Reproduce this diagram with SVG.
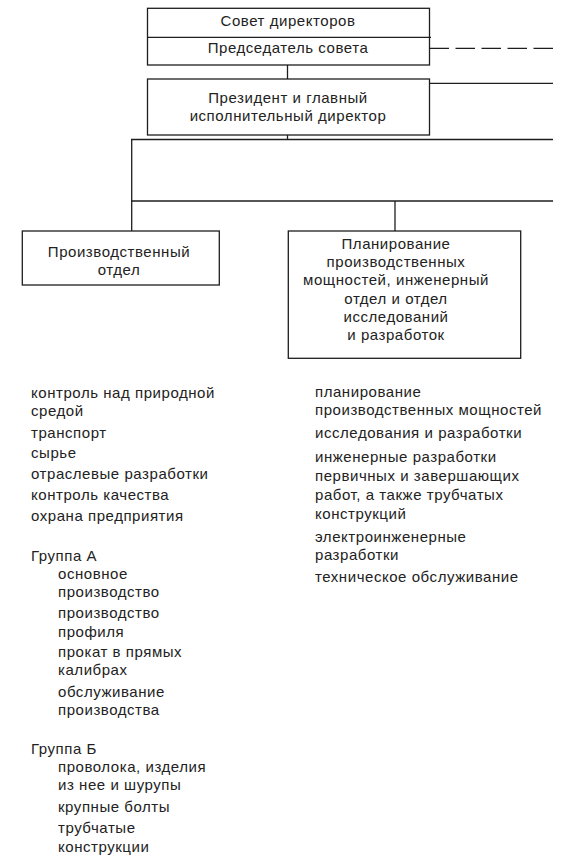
<svg xmlns="http://www.w3.org/2000/svg" width="562" height="859" viewBox="0 0 562 859">
<style>
.box{fill:#fff;stroke:#1e1e1e;stroke-width:1.3}
.ln{stroke:#1e1e1e;stroke-width:1.3;fill:none}
.dash{stroke:#1e1e1e;stroke-width:1.3;fill:none;stroke-dasharray:19.5 6.5}
text{font-family:"Liberation Sans",Arial,sans-serif;font-size:15px;fill:#222;letter-spacing:0.55px}
.c{text-anchor:middle}
</style>
<rect width="562" height="859" fill="#fff"/>
<g id="connectors">
<line class="ln" x1="287.5" y1="65" x2="287.5" y2="79"/>
<line class="ln" x1="287.5" y1="135" x2="287.5" y2="140"/>
<line class="dash" x1="429.5" y1="48.3" x2="553" y2="48.3"/>
<line class="ln" x1="430" y1="83.3" x2="553" y2="83.3"/>
<line class="ln" x1="131" y1="139.5" x2="553" y2="139.5"/>
<line class="ln" x1="131.7" y1="139" x2="131.7" y2="231"/>
<line class="ln" x1="131" y1="201" x2="553" y2="201"/>
<line class="ln" x1="395" y1="201" x2="395" y2="231"/>
</g>
<g id="board">
<rect class="box" x="147.5" y="8.3" width="282" height="56.7"/>
<line class="ln" x1="147.5" y1="37.3" x2="431" y2="37.3"/>
<text class="c" x="288" y="26">Совет директоров</text>
<text class="c" x="288" y="53">Председатель совета</text>
</g>
<g id="president">
<rect class="box" x="147.5" y="79" width="282" height="56"/>
<text class="c" x="288" y="103">Президент и главный</text>
<text class="c" x="288" y="121">исполнительный директор</text>
</g>
<g id="production">
<rect class="box" x="22.3" y="231" width="197" height="54"/>
<text class="c" x="119" y="256.5">Производственный</text>
<text class="c" x="119" y="274.5">отдел</text>
</g>
<g id="planning">
<rect class="box" x="288.3" y="231" width="232.4" height="127.3"/>
<text class="c" x="396" y="249">Планирование</text>
<text class="c" x="396" y="267.2">производственных</text>
<text class="c" x="396" y="285.4">мощностей, инженерный</text>
<text class="c" x="396" y="303.6">отдел и отдел</text>
<text class="c" x="396" y="321.8">исследований</text>
<text class="c" x="396" y="340">и разработок</text>
</g>
<g id="production-list">
<text x="31" y="398">контроль над природной</text>
<text x="31" y="416">средой</text>
<text x="31" y="437.5">транспорт</text>
<text x="31" y="458">сырье</text>
<text x="31" y="479">отраслевые разработки</text>
<text x="31" y="500">контроль качества</text>
<text x="31" y="521">охрана предприятия</text>
<text x="31" y="561">Группа А</text>
<text x="58" y="579">основное</text>
<text x="58" y="597">производство</text>
<text x="58" y="617.5">производство</text>
<text x="58" y="636.5">профиля</text>
<text x="58" y="657">прокат в прямых</text>
<text x="58" y="675">калибрах</text>
<text x="58" y="696.5">обслуживание</text>
<text x="58" y="715">производства</text>
<text x="31" y="754">Группа Б</text>
<text x="58" y="772">проволока, изделия</text>
<text x="58" y="790">из нее и шурупы</text>
<text x="58" y="811.5">крупные болты</text>
<text x="58" y="833">трубчатые</text>
<text x="58" y="851.5">конструкции</text>
</g>
<g id="planning-list">
<text x="315" y="397">планирование</text>
<text x="315" y="415">производственных мощностей</text>
<text x="315" y="438">исследования и разработки</text>
<text x="315" y="462">инженерные разработки</text>
<text x="315" y="481">первичных и завершающих</text>
<text x="315" y="500">работ, а также трубчатых</text>
<text x="315" y="518.5">конструкций</text>
<text x="315" y="541.5">электроинженерные</text>
<text x="315" y="560">разработки</text>
<text x="315" y="582">техническое обслуживание</text>
</g>
</svg>
